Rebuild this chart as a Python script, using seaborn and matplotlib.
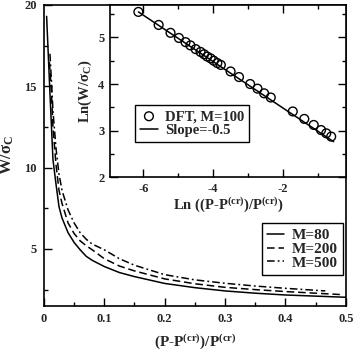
import numpy as np
import pandas as pd
import matplotlib
matplotlib.use("Agg")
import matplotlib.pyplot as plt
from matplotlib.ticker import MultipleLocator
import seaborn as sns

# --- data ---
# main panel: W/sigma_C vs (P-Pcr)/Pcr
x_m80 = [0.0045, 0.01, 0.015, 0.02, 0.025, 0.03, 0.04, 0.05, 0.06, 0.07, 0.08,
         0.1, 0.125, 0.15, 0.2, 0.25, 0.3, 0.35, 0.4, 0.45, 0.5]
w_m80 = [19.3, 14.6, 10.5, 9.0, 7.6, 6.9, 6.0, 5.4, 4.95, 4.55, 4.3,
         3.92, 3.55, 3.3, 2.88, 2.62, 2.42, 2.28, 2.17, 2.1, 2.03]

x_m200 = [0.009, 0.012, 0.015, 0.02, 0.025, 0.03, 0.04, 0.05, 0.06, 0.07, 0.08,
          0.1, 0.125, 0.15, 0.2, 0.25, 0.3, 0.35, 0.4, 0.45, 0.49]
w_m200 = [16.5, 15.0, 12.5, 10.2, 8.6, 7.8, 6.6, 5.95, 5.5, 5.2, 4.95,
          4.4, 3.95, 3.65, 3.16, 2.86, 2.64, 2.5, 2.38, 2.28, 2.2]

x_m500 = [0.01, 0.013, 0.015, 0.02, 0.025, 0.03, 0.04, 0.05, 0.06, 0.07, 0.08,
          0.1, 0.125, 0.15, 0.2, 0.25, 0.3, 0.35, 0.4, 0.466]
w_m500 = [17.0, 15.0, 13.5, 11.2, 9.6, 8.6, 7.4, 6.6, 6.0, 5.6, 5.3,
          4.95, 4.4, 4.0, 3.42, 3.1, 2.89, 2.72, 2.58, 2.42]

# inset: DFT points (M=100) and slope -0.5 line
ln_p = [-6.14, -5.56, -5.22, -4.98, -4.79, -4.65, -4.50, -4.36, -4.26, -4.17,
        -4.07, -3.98, -3.88, -3.78, -3.50, -3.26, -2.94, -2.73, -2.54, -2.35,
        -1.72, -1.39, -1.12, -0.91, -0.76, -0.62]
ln_w = [5.55, 5.27, 5.10, 4.99, 4.90, 4.83, 4.75, 4.69, 4.64, 4.59,
        4.55, 4.50, 4.45, 4.41, 4.27, 4.15, 4.00, 3.90, 3.80, 3.71,
        3.41, 3.25, 3.12, 3.01, 2.94, 2.87]
fit_x = [-6.14, -0.55]
fit_y = [5.55, 2.76]

# --- style ---
sns.set_style("ticks")
plt.rcParams["font.family"] = ["Liberation Serif", "DejaVu Serif"]
plt.rcParams["font.weight"] = "bold"
plt.rcParams["axes.labelweight"] = "bold"
plt.rcParams["axes.unicode_minus"] = False
plt.rcParams["mathtext.fontset"] = "custom"
plt.rcParams["mathtext.rm"] = "Liberation Serif:bold"
plt.rcParams["mathtext.it"] = "Liberation Serif:bold"
plt.rcParams["mathtext.bf"] = "Liberation Serif:bold"

fig = plt.figure(figsize=(3.54, 3.52), dpi=100)
ax = fig.add_axes([0.124, 0.131, 0.853, 0.855])

series = [("M=80", x_m80, w_m80, "-"),
          ("M=200", x_m200, w_m200, (0, (5, 2.5))),
          ("M=500", x_m500, w_m500, (0, (5, 2, 1.2, 2)))]
for name, xs, ys, ls in series:
    d = pd.DataFrame({"x": xs, "w": ys})
    sns.lineplot(data=d, x="x", y="w", ax=ax, color="black", lw=1.1,
                 linestyle=ls, label=name)

ax.set_xlim(0, 0.5)
ax.set_ylim(1.5, 20)
ax.xaxis.set_major_locator(MultipleLocator(0.1))
ax.xaxis.set_minor_locator(MultipleLocator(0.05))
ax.yaxis.set_major_locator(MultipleLocator(5))
ax.yaxis.set_minor_locator(MultipleLocator(2.5))
ax.tick_params(which="both", direction="in", top=False, right=False,
               labelsize=9, width=1, color="black")
ax.tick_params(which="major", length=6, pad=5)
ax.tick_params(which="minor", length=3)
for s in ax.spines.values():
    s.set_linewidth(1.2)
    s.set_color("black")
ax.set_xlabel(r"(P-P$^{\mathrm{(cr)}}$)/P$^{\mathrm{(cr)}}$", fontsize=11, labelpad=5)
ax.set_ylabel(r"W/$\mathrm{\sigma_C}$", fontsize=12, labelpad=6)
xt = [0, 0.1, 0.2, 0.3, 0.4, 0.5]
ax.set_xticks(xt)
ax.set_xticklabels(["0" if v == 0 else f"{v:g}" for v in xt])
ax.set_xlim(0, 0.5)
leg = ax.legend(loc="lower right", bbox_to_anchor=(0.99, 0.103), borderaxespad=0,
                fancybox=False, edgecolor="black", framealpha=1, fontsize=11,
                handlelength=1.1, handletextpad=0.5, labelspacing=0.0,
                borderpad=0.35)
leg.get_frame().set_linewidth(1)

# --- inset ---
ins = fig.add_axes([0.311, 0.497, 0.666, 0.489])
ins.set_facecolor("white")
pts = pd.DataFrame({"lnp": ln_p, "lnw": ln_w})
fit = pd.DataFrame({"lnp": fit_x, "lnw": fit_y})
sns.lineplot(data=fit, x="lnp", y="lnw", ax=ins, color="black", lw=1.1,
             label="Slope=-0.5")
sns.scatterplot(data=pts, x="lnp", y="lnw", ax=ins, marker="o", s=40,
                facecolor="none", edgecolor="black", linewidth=1,
                label="DFT, M=100")
ins.set_xlim(-6.95, -0.2)
ins.set_ylim(2, 5.7)
ins.xaxis.set_major_locator(MultipleLocator(2))
ins.xaxis.set_minor_locator(MultipleLocator(1))
ins.yaxis.set_major_locator(MultipleLocator(1))
ins.yaxis.set_minor_locator(MultipleLocator(0.5))
ins.tick_params(which="both", direction="in", top=True, right=True,
                labelsize=9, width=1, color="black")
ins.tick_params(which="major", length=6, pad=4)
ins.tick_params(which="minor", length=3)
for s in ins.spines.values():
    s.set_linewidth(1.2)
    s.set_color("black")
ins.set_xlabel(r"Ln ((P-P$^{\mathrm{(cr)}}$)/P$^{\mathrm{(cr)}}$)", fontsize=10.5, labelpad=0)
ins.set_ylabel(r"Ln(W/$\mathrm{\sigma_C}$)", fontsize=10.5, labelpad=3)
h, l = ins.get_legend_handles_labels()
order = [l.index("DFT, M=100"), l.index("Slope=-0.5")]
leg2 = ins.legend([h[i] for i in order], [l[i] for i in order],
                  loc="lower left", bbox_to_anchor=(0.106, 0.203), borderaxespad=0,
                  fancybox=False, edgecolor="black", framealpha=1, fontsize=10.5,
                  handlelength=1.2, handletextpad=0.5, labelspacing=0.05,
                  borderpad=0.35)
leg2.get_frame().set_linewidth(1)

fig.savefig("out.png", dpi=100)
